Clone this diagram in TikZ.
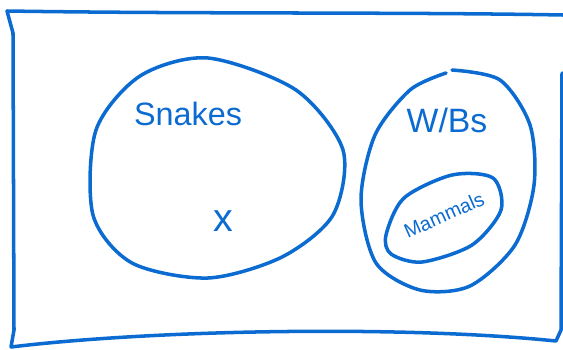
\documentclass[tikz,border=0pt]{standalone}
\usepackage{fontspec}
\setmainfont{Liberation Sans}
\definecolor{pen}{RGB}{11,107,208}

\begin{document}
\begin{tikzpicture}[x=0.025cm,y=-0.025cm,line width=2.5pt,line cap=round,line join=round,draw=pen,text=pen]
\useasboundingbox (0,0) rectangle (563,349);
% frame
\draw (563,15) .. controls (400,12) and (200,14) .. (7,11) -- (13,33) -- (14,330) -- (11,347)
  .. controls (150,330) and (400,325) .. (556,341) -- (561,330) -- (562,73);
% sets
\draw plot[smooth cycle] coordinates {(208,58) (296,90) (343,150) (333,215) (282,257) (208,278)
  (132,263) (93,215) (96,130) (140,76)};
\draw plot[smooth] coordinates {(452,70) (500,80) (530,125) (534,185) (515,245) (470,286)
  (420,290) (376,263) (361,200) (375,135) (410,90) (446,73)};
\draw plot[smooth cycle] coordinates {(386,235) (404,198) (452,175) (493,178) (501,210)
  (472,245) (422,262) (391,254)};
\node[font=\fontsize{23}{26}\selectfont] (snakes) at (188,114) {Snakes};
\node[font=\fontsize{24}{27}\selectfont] (wbs) at (447,120) {W/Bs};
\node[font=\fontsize{14}{16}\selectfont,rotate=24,inner sep=0pt] (mammals) at (444,215) {Mammals};
\node[font=\fontsize{28}{30}\selectfont] (x) at (223,221) {x};
\end{tikzpicture}
\end{document}
